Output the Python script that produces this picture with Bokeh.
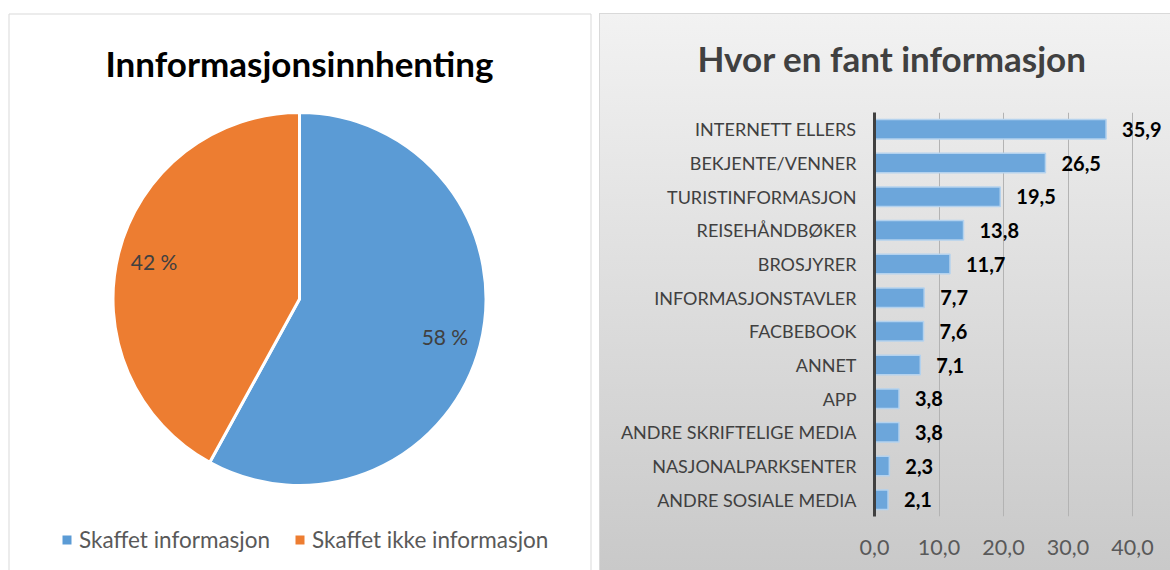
import numpy as np
from bokeh.plotting import figure
from bokeh.models import Range1d, FactorRange, ColumnDataSource, Label, Legend, LegendItem, FixedTicker
from bokeh.layouts import row
from bokeh.core.properties import value
from bokeh.embed import file_html
from bokeh.resources import INLINE

# ---- data ----
pie_labels = ["Skaffet informasjon", "Skaffet ikke informasjon"]
pie_values = [58, 42]
pie_colors = ["#5b9bd5", "#ed7d31"]

bar_categories = ["INTERNETT ELLERS", "BEKJENTE/VENNER", "TURISTINFORMASJON",
                  "REISEHÅNDBØKER", "BROSJYRER", "INFORMASJONSTAVLER", "FACBEBOOK",
                  "ANNET", "APP", "ANDRE SKRIFTELIGE MEDIA", "NASJONALPARKSENTER",
                  "ANDRE SOSIALE MEDIA"]
bar_values = [35.9, 26.5, 19.5, 13.8, 11.7, 7.7, 7.6, 7.1, 3.8, 3.8, 2.3, 2.1]
x_ticks = [0, 10, 20, 30, 40]
x_tick_labels = ["0,0", "10,0", "20,0", "30,0", "40,0"]

FONT = "Lato"
H = 570


def Y(py):
    return H - py


# ---- left: pie ----
left = figure(width=599, height=H, x_range=Range1d(0, 599), y_range=Range1d(0, H),
              output_backend="svg", toolbar_location=None,
              x_axis_location=None, y_axis_location=None, min_border=0,
              outline_line_color=None, background_fill_color="white",
              border_fill_color="white")
try:
    left.frame_align = False
except AttributeError:
    pass
left.xgrid.visible = False
left.ygrid.visible = False

left.quad(left=8.5, right=590.5, top=Y(13.5), bottom=Y(900), fill_color=None,
          line_color="#d9d9d9", line_width=1)

vals = np.array(pie_values, dtype=float)
frac = vals / vals.sum()
ends = np.pi / 2 - 2 * np.pi * np.cumsum(frac)
starts = np.concatenate([[np.pi / 2], ends[:-1]])
src = ColumnDataSource(dict(start=starts, end=ends, color=pie_colors, label=pie_labels))
cx, cy, r = 299, Y(298.5), 186.5
w = left.wedge(x=cx, y=cy, radius=r, start_angle="start", end_angle="end",
               direction="clock", fill_color="color", line_color="white",
               line_width=3, source=src)

mids = (starts + ends) / 2
lx = cx + 0.805 * r * np.cos(mids)
ly = cy + 0.805 * r * np.sin(mids)
left.text(x=lx, y=ly, text=[f"{int(v)} %" for v in pie_values],
          text_align="center", text_baseline="middle", text_font=value(FONT),
          text_font_size="21px", text_color="#404040")

left.add_layout(Label(x=299, y=Y(62), text="Innformasjonsinnhenting",
                      text_align="center", text_baseline="alphabetic",
                      text_font=FONT, text_font_style="bold",
                      text_font_size="35px", text_color="#000000"))

legend = Legend(items=[LegendItem(label=pie_labels[i], renderers=[w], index=i)
                       for i in range(len(pie_labels))],
                orientation="horizontal", location=(59, 17),
                glyph_width=15, glyph_height=15, label_standoff=5, spacing=22,
                padding=0, margin=0, border_line_color=None,
                background_fill_alpha=0, label_text_font=FONT,
                label_text_font_size="22.5px", label_text_color="#595959")
left.add_layout(legend)

# ---- right: bars ----
right = figure(width=571, height=H,
               y_range=FactorRange(factors=list(reversed(bar_categories))),
               x_range=Range1d(0, 45.89), output_backend="svg",
               toolbar_location=None, min_border_left=275, min_border_right=0,
               min_border_top=111, min_border_bottom=54,
               border_fill_color=None, background_fill_color=None,
               outline_line_color=None, title="Hvor en fant informasjon")
try:
    right.frame_align = False
except AttributeError:
    pass
right.styles = {
    "background-color": "#ffffff",
    "background-image": "linear-gradient(#d9d9d9, #d9d9d9), "
                        "linear-gradient(#d9d9d9, #d9d9d9), "
                        "linear-gradient(to bottom, #f2f2f2, #c9c9c9)",
    "background-position": "0px 13px, 0px 13px, 1px 14px",
    "background-size": "100% 1px, 1px 557px, 570px 556px",
    "background-repeat": "no-repeat",
}
right.title.align = "left"
right.title.offset = -177
right.title.standoff = 68
right.title.text_font = FONT
right.title.text_font_style = "bold"
right.title.text_font_size = "35px"
right.title.text_color = "#404040"

right.hbar(y=bar_categories, left=0, right=bar_values, height=0.58,
           fill_color="#6ca6db", line_color="#b4d2ee", line_width=1.5)
right.text(x=bar_values, y=bar_categories,
           text=[f"{v:.1f}".replace(".", ",") for v in bar_values],
           x_offset=16, text_align="left", text_baseline="middle",
           text_font=value(FONT), text_font_style="bold", text_font_size="20px",
           text_color="#000000")

right.xaxis.ticker = FixedTicker(ticks=x_ticks)
right.xaxis.major_label_overrides = dict(zip(x_ticks, x_tick_labels))
right.xaxis.axis_line_color = None
right.xaxis.major_tick_line_color = None
right.xaxis.minor_tick_line_color = None
right.xaxis.major_tick_out = 0
right.xaxis.major_tick_in = 0
right.xaxis.major_label_standoff = 23
right.xaxis.major_label_text_font = FONT
right.xaxis.major_label_text_font_size = "21.5px"
right.xaxis.major_label_text_color = "#595959"

right.xgrid.ticker = FixedTicker(ticks=x_ticks[1:])
right.xgrid.grid_line_color = "#b3b3b3"
right.ygrid.grid_line_color = None

right.yaxis.axis_line_width = 3
right.yaxis.axis_line_color = "#404040"
right.yaxis.major_tick_line_color = None
right.yaxis.minor_tick_line_color = None
right.yaxis.major_tick_out = 0
right.yaxis.major_tick_in = 0
right.yaxis.major_label_standoff = 18
right.yaxis.major_label_text_font = FONT
right.yaxis.major_label_text_font_size = "18px"
right.yaxis.major_label_text_color = "#404040"

layout = row(left, right)
open("out.html", "w").write(file_html(layout, INLINE, "chart"))
